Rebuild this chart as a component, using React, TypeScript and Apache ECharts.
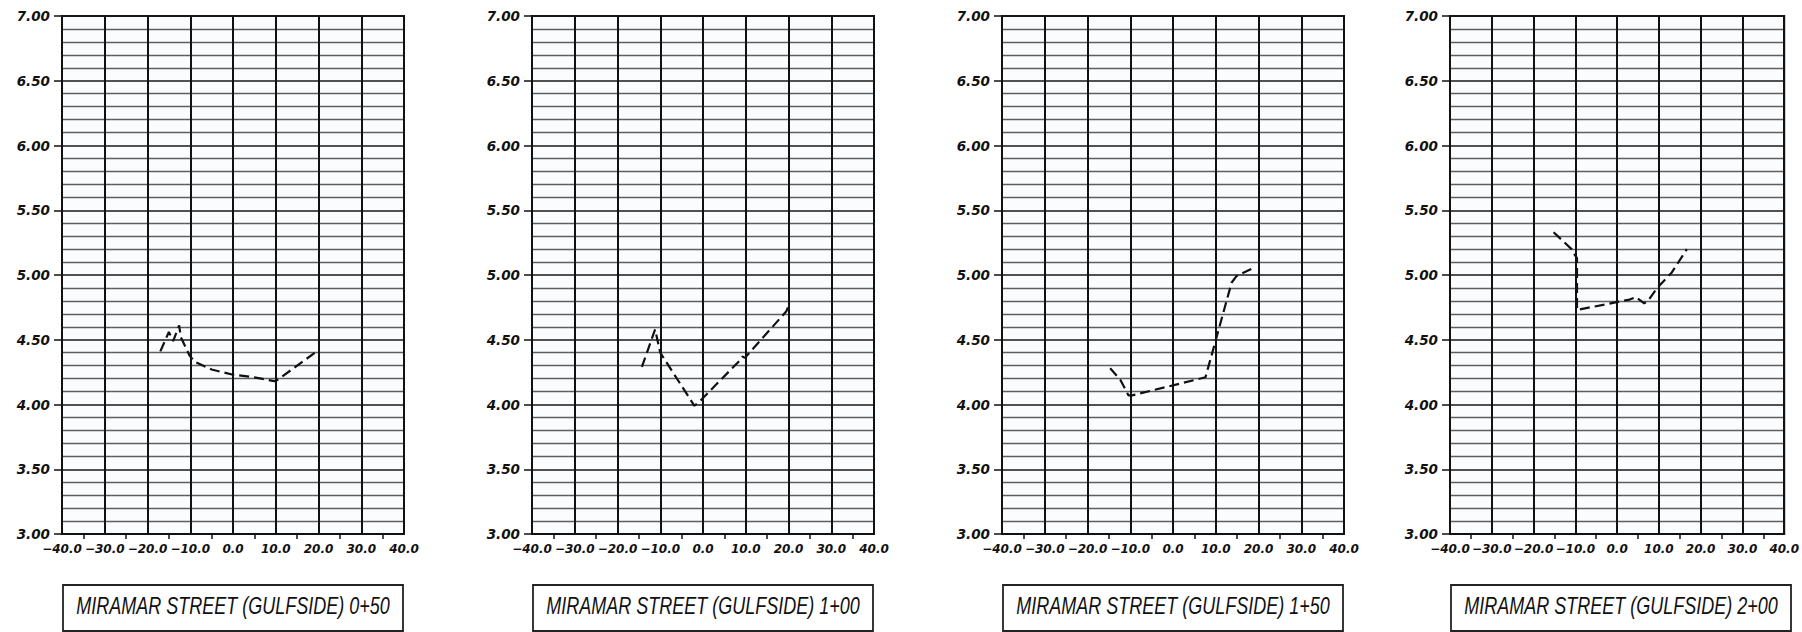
import React, { useEffect, useRef } from "react";
import * as echarts from "echarts";

const titles = [
  "MIRAMAR STREET (GULFSIDE) 0+50",
  "MIRAMAR STREET (GULFSIDE) 1+00",
  "MIRAMAR STREET (GULFSIDE) 1+50",
  "MIRAMAR STREET (GULFSIDE) 2+00",
];

const profile050: [number, number][] = [
  [-17, 4.41], [-15, 4.56], [-14, 4.49], [-12.6, 4.61], [-12.2, 4.52],
  [-10.2, 4.38], [-9, 4.33], [-5, 4.27], [0, 4.23], [5, 4.21], [9.6, 4.18],
  [10.4, 4.19], [20, 4.42],
];
const profile100: [number, number][] = [
  [-14.3, 4.29], [-11.2, 4.58], [-10, 4.4], [-2, 3.99], [-0.3, 4.04],
  [8.6, 4.34], [9.2, 4.37], [9.8, 4.36], [19.5, 4.72], [20, 4.76],
];
const profile150: [number, number][] = [
  [-14.7, 4.28], [-12.3, 4.19], [-10.4, 4.07], [-9.6, 4.07], [7.6, 4.21],
  [13.7, 4.94], [14.8, 4.99], [19.1, 5.06],
];
const profile200: [number, number][] = [
  [-15.2, 5.33], [-10.9, 5.2], [-10.2, 5.16], [-9.6, 5.13], [-9.6, 4.73],
  [3.0, 4.81], [4.5, 4.83], [6.5, 4.78], [7.6, 4.81], [9.6, 4.9],
  [13.1, 5.02], [16.7, 5.2],
];
const profiles = [profile050, profile100, profile150, profile200];

const xMin = -40;
const xMax = 40;
const xStep = 10;
const yMin = 3;
const yMax = 7;
const yStep = 0.5;

const panelLefts = [62, 532, 1002, 1450];
const PANEL_W = 342;
const GRID_TOP = 16;
const GRID_H = 518;

const labelFont = "'DejaVu Sans', sans-serif";

function fmtX(v: number): string {
  if (v === 0) return "0.0";
  return v < 0 ? "\u2212" + Math.abs(v).toFixed(1) : v.toFixed(1);
}

export default function App() {
  const ref = useRef<HTMLDivElement>(null);

  useEffect(() => {
    document.body.style.margin = "0";
    document.body.style.overflow = "hidden";
    if (!ref.current) return;
    const chart = echarts.init(ref.current, null, { renderer: "svg" });

    const grids = panelLefts.map((left) => ({
      left,
      top: GRID_TOP,
      width: PANEL_W,
      height: GRID_H,
      show: true,
      borderColor: "#111",
      borderWidth: 2,
      backgroundColor: "#fbfcfe",
    }));

    const xAxes = panelLefts.map((_, i) => ({
      type: "value",
      gridIndex: i,
      min: xMin,
      max: xMax,
      interval: xStep,
      axisLine: { show: true, onZero: false, lineStyle: { color: "#111", width: 2 } },
      axisTick: { show: false },
      minorTick: { show: true, splitNumber: 2, length: 5, lineStyle: { color: "#111", width: 1.5 } },
      axisLabel: {
        formatter: (v: number) => fmtX(v),
        fontFamily: labelFont,
        fontStyle: "italic",
        fontWeight: "bold",
        fontSize: 12,
        color: "#111",
        margin: 9,
        showMinLabel: true,
        showMaxLabel: true,
        hideOverlap: false,
      },
      splitLine: { show: true, lineStyle: { color: "#111", width: 2 } },
      minorSplitLine: { show: false },
    }));

    const yAxes = panelLefts.map((_, i) => ({
      type: "value",
      gridIndex: i,
      min: yMin,
      max: yMax,
      interval: yStep,
      axisLine: { show: true, onZero: false, lineStyle: { color: "#111", width: 2 } },
      axisTick: { show: true, length: 8, lineStyle: { color: "#111", width: 1.5 } },
      minorTick: { show: false, splitNumber: 5 },
      axisLabel: {
        formatter: (v: number) => v.toFixed(2),
        fontFamily: labelFont,
        fontStyle: "italic",
        fontWeight: "bold",
        fontSize: 13.5,
        color: "#111",
        margin: 12,
        showMinLabel: true,
        showMaxLabel: true,
      },
      splitLine: { show: true, lineStyle: { color: "#1a1a1a", width: 1.7 } },
      minorSplitLine: { show: true, lineStyle: { color: "#5e5e5e", width: 1.3 } },
    }));

    const series = profiles.map((data, i) => ({
      type: "line",
      xAxisIndex: i,
      yAxisIndex: i,
      data,
      symbol: "none",
      lineStyle: { color: "#111", width: 2.2, type: [10, 5] },
      z: 5,
    }));

    const graphic = panelLefts.map((left, i) => ({
      type: "group",
      children: [
        {
          type: "rect",
          shape: { x: left + 1, y: 585, width: PANEL_W - 2, height: 46 },
          style: { fill: "#fff", stroke: "#222", lineWidth: 1.8 },
        },
        {
          type: "text",
          x: left + PANEL_W / 2,
          y: 606,
          scaleX: 0.75,
          style: {
            text: titles[i],
            x: 0,
            y: 0,
            fontFamily: "'Liberation Sans', Arial, sans-serif",
            fontStyle: "italic",
            fontSize: 24,
            fill: "#111",
            textAlign: "center",
            textVerticalAlign: "middle",
            align: "center",
            verticalAlign: "middle",
          },
        },
      ],
    }));

    chart.setOption({
      animation: false,
      backgroundColor: "#fff",
      grid: grids,
      xAxis: xAxes,
      yAxis: yAxes,
      series,
      graphic,
    });

    return () => chart.dispose();
  }, []);

  return <div ref={ref} style={{ width: 1802, height: 632 }} />;
}
